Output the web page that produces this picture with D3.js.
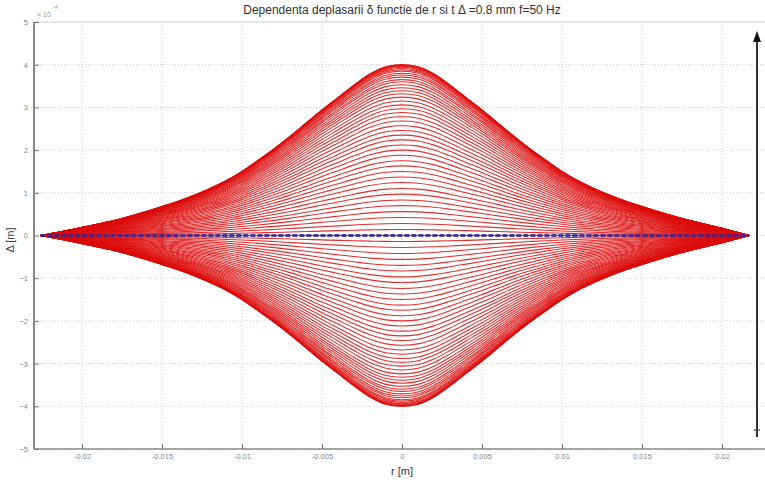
<!DOCTYPE html>
<html><head><meta charset="utf-8">
<script src="https://cdn.jsdelivr.net/npm/d3@7"></script>
<style>body{margin:0;background:#fff}svg{display:block}</style>
</head><body>
<svg id="c" width="765" height="483"></svg>
<script>
// radial positions (m) of the sampled envelope across the whole profile
const rPos = [-0.0226, -0.022, -0.021, -0.020, -0.019, -0.018, -0.017, -0.016, -0.015, -0.014, -0.013, -0.012, -0.011, -0.010, -0.009, -0.008, -0.007, -0.006, -0.005, -0.004, -0.003, -0.002, -0.001,
  0, 0.001, 0.002, 0.003, 0.004, 0.005, 0.006, 0.007, 0.008, 0.009, 0.010, 0.011, 0.012, 0.013, 0.014, 0.015, 0.016, 0.017, 0.018, 0.019, 0.020, 0.021, 0.0217];
// upper envelope (units of 1e-4 m) at those radii
const envelope = [0.00, 0.04, 0.11, 0.19, 0.27, 0.35, 0.45, 0.56, 0.68, 0.80, 0.94, 1.10, 1.28, 1.50, 1.76, 2.03, 2.32, 2.63, 2.94, 3.23, 3.52, 3.78, 3.95,
  4.00, 3.95, 3.78, 3.52, 3.23, 2.94, 2.63, 2.32, 2.03, 1.76, 1.50, 1.28, 1.10, 0.94, 0.80, 0.68, 0.56, 0.45, 0.35, 0.26, 0.17, 0.07, 0.00];
// centre displacement of each drawn curve (units of 1e-4 m)
const peaks = [4.00, 4.00, 3.99, 3.98, 3.96, 3.94, 3.91, 3.88, 3.85, 3.80, 3.76, 3.71, 3.65, 3.60, 3.53, 3.46, 3.39, 3.32, 3.24, 3.15, 3.06, 2.97, 2.88, 2.78, 2.68, 2.57, 2.46, 2.35, 2.24, 2.12, 2.00, 1.88, 1.75, 1.63, 1.50, 1.37, 1.24, 1.10, 0.97, 0.83, 0.70, 0.56, 0.42, 0.28, 0.14, 0.00,
  -0.14, -0.28, -0.42, -0.56, -0.70, -0.83, -0.97, -1.10, -1.24, -1.37, -1.50, -1.63, -1.75, -1.88, -2.00, -2.12, -2.24, -2.35, -2.46, -2.57, -2.68, -2.78, -2.88, -2.97, -3.06, -3.15, -3.24, -3.32, -3.39, -3.46, -3.53, -3.60, -3.65, -3.71, -3.76, -3.80, -3.85, -3.88, -3.91, -3.94, -3.96, -3.98, -3.99, -4.00, -4.00];
const xTicks = [-0.02, -0.015, -0.01, -0.005, 0, 0.005, 0.01, 0.015, 0.02];
const xTickLabels = ["-0.02", "-0.015", "-0.01", "-0.005", "0", "0.005", "0.01", "0.015", "0.02"];
const yTicks = [-5, -4, -3, -2, -1, 0, 1, 2, 3, 4, 5];
const title = "Dependenta deplasarii \u03b4 functie de r si t \u0394 =0.8 mm f=50 Hz";

const svg = d3.select("#c");
const x = d3.scaleLinear().domain([-0.023, 0.023]).range([34, 770]);
const y = d3.scaleLinear().domain([-5, 5]).range([449, 22]);
const font = "Arial, 'Liberation Sans', sans-serif";

// grid
const grid = svg.append("g").attr("stroke", "#cfcfcf").attr("stroke-width", 1).attr("stroke-dasharray", "1,2");
xTicks.forEach(t => grid.append("line").attr("x1", x(t)).attr("x2", x(t)).attr("y1", y(5)).attr("y2", y(-5)));
yTicks.forEach(t => grid.append("line").attr("x1", x(-0.023)).attr("x2", 765).attr("y1", y(t)).attr("y2", y(t)));

// curves
const full = rPos.map((r, i) => [r, envelope[i]]);
const line = d3.line().x(d => x(d[0])).y(d => y(d[1])).curve(d3.curveCatmullRom.alpha(0.5));
const cg = svg.append("g").attr("fill", "none");
peaks.forEach(p => {
  const k = p / 4;
  cg.append("path").attr("d", line(full.map(d => [d[0], d[1] * k])))
    .attr("stroke", "#dd0a0a").attr("stroke-width", 1.1).attr("stroke-opacity", 0.85);
});
// zero (t) line
svg.append("line").attr("x1", x(rPos[0])).attr("x2", x(rPos[rPos.length - 1]))
  .attr("y1", y(0)).attr("y2", y(0)).attr("stroke", "#3a2590").attr("stroke-width", 3)
  .attr("stroke-dasharray", "5,2").attr("stroke-opacity", 0.85);

// box/axes
svg.append("line").attr("x1", 34).attr("x2", 765).attr("y1", 22).attr("y2", 22).attr("stroke", "#d8d8d8");
svg.append("line").attr("x1", 34).attr("x2", 765).attr("y1", 449).attr("y2", 449).attr("stroke", "#8a8a8a").attr("stroke-width", 1.5);
svg.append("line").attr("x1", 34).attr("x2", 34).attr("y1", 22).attr("y2", 449).attr("stroke", "#8a8a8a").attr("stroke-width", 2);

const xa = svg.append("g").attr("transform", "translate(0,449)")
  .call(d3.axisBottom(x).tickValues(xTicks).tickFormat((d, i) => xTickLabels[i]).tickSizeInner(-5).tickSizeOuter(0).tickPadding(5));
xa.select(".domain").remove();
xa.selectAll("line").attr("stroke", "#777");
xa.selectAll("text").attr("fill", "#888").style("font-size", "7.5px").style("font-family", font);

const ya = svg.append("g").attr("transform", "translate(34,0)")
  .call(d3.axisLeft(y).tickValues(yTicks).tickFormat(d3.format("d")).tickSizeInner(-5).tickSizeOuter(0).tickPadding(6));
ya.select(".domain").remove();
ya.selectAll("line").attr("stroke", "#777");
ya.selectAll("text").attr("fill", "#888").style("font-size", "7.5px").style("font-family", font);

// exponent
svg.append("text").attr("x", 37).attr("y", 17).text("\u00d7 10").attr("fill", "#999").style("font-size", "7px").style("font-family", font);
svg.append("text").attr("x", 53).attr("y", 9).text("-4").attr("fill", "#999").style("font-size", "5.5px").style("font-family", font);

// title and labels
svg.append("text").attr("x", 402).attr("y", 14).attr("text-anchor", "middle").text(title)
  .attr("fill", "#333").style("font-size", "12px").style("font-family", font);
svg.append("text").attr("x", 402).attr("y", 475).attr("text-anchor", "middle").text("r [m]")
  .attr("fill", "#333").style("font-size", "11px").style("font-family", font);
svg.append("text").attr("transform", "translate(14,240) rotate(-90)").attr("text-anchor", "middle").text("\u0394 [m]")
  .attr("fill", "#444").style("font-size", "11px").style("font-family", font);

// time arrow
svg.append("line").attr("x1", 757).attr("x2", 757).attr("y1", 40).attr("y2", 437).attr("stroke", "#333").attr("stroke-width", 2);
svg.append("path").attr("d", "M757,31 L753,42 L761,42 Z").attr("fill", "#111");
svg.append("line").attr("x1", 754).attr("x2", 760).attr("y1", 430).attr("y2", 430).attr("stroke", "#444").attr("stroke-width", 1.2);
</script>
</body></html>
